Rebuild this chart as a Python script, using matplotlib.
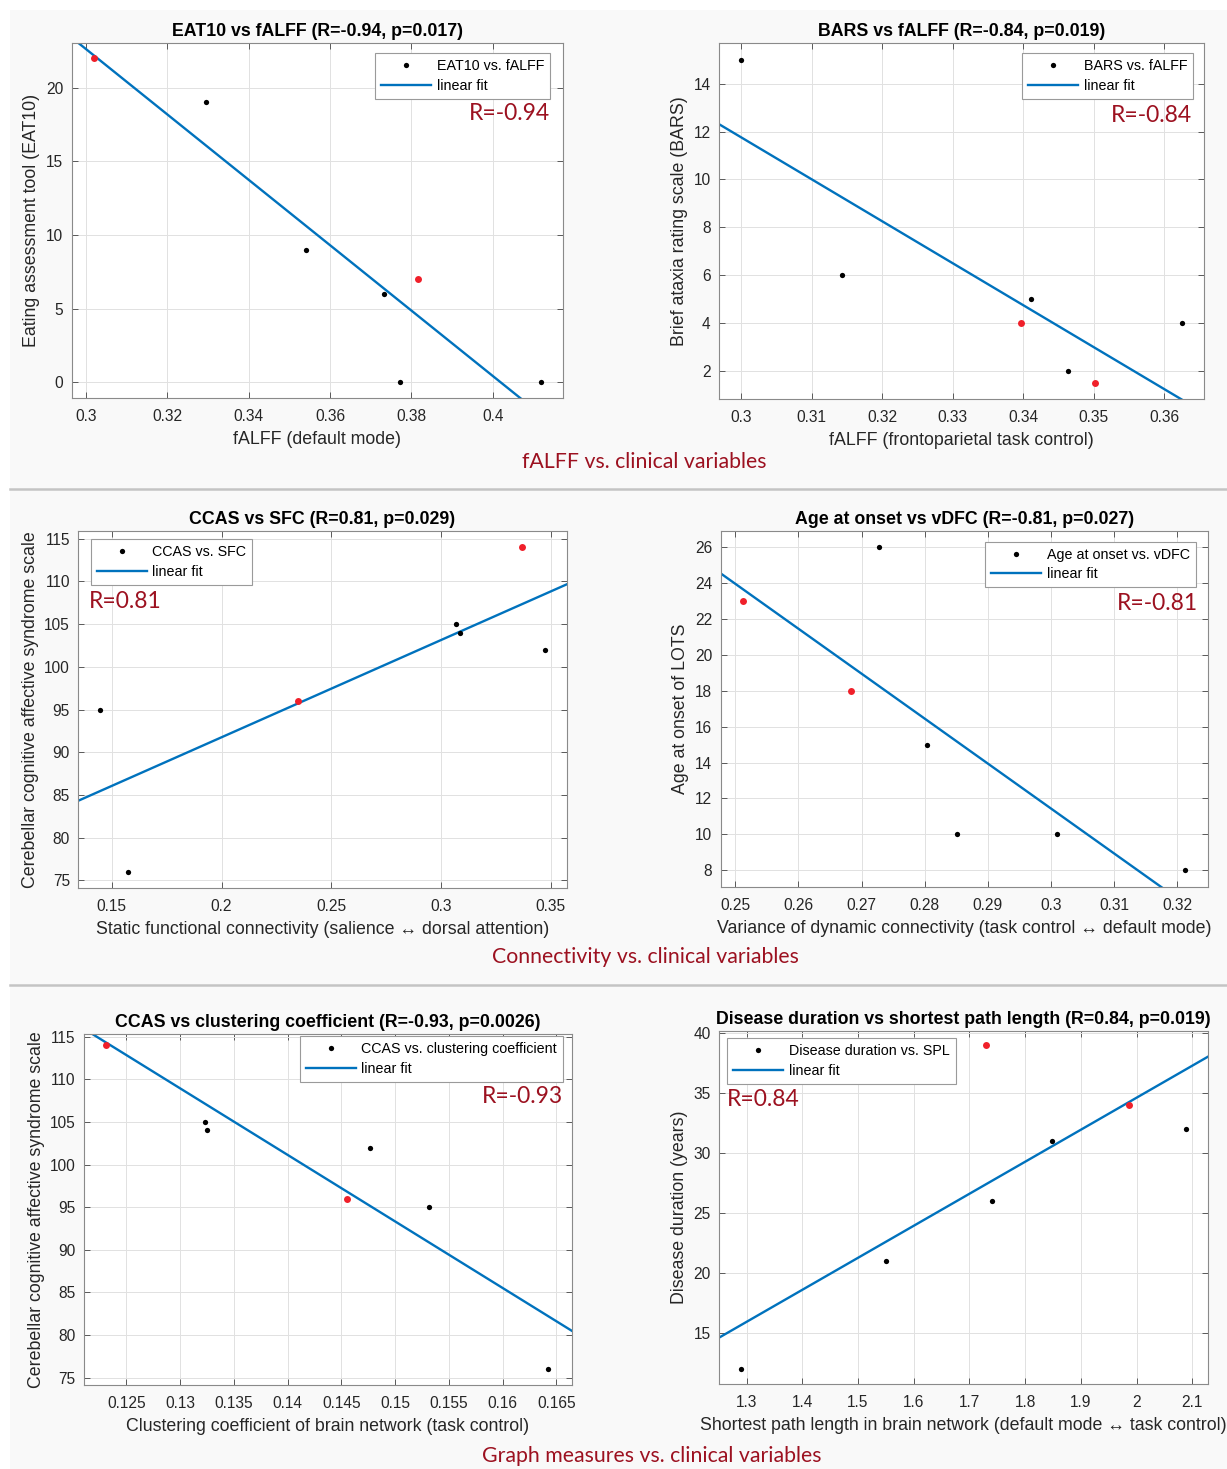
import numpy as np
import matplotlib
matplotlib.use('Agg')
import matplotlib.pyplot as plt
from matplotlib.lines import Line2D
from matplotlib.patches import Rectangle
from matplotlib.transforms import Bbox

W, H = 1227, 1469
plt.rcParams['font.family'] = ['Liberation Sans', 'DejaVu Sans']

# ---- data ----
# fALFF (default mode) vs EAT10
falff_dm = [0.302, 0.3296, 0.354, 0.3733, 0.3771, 0.3817, 0.4117]
eat10 = [22, 19, 9, 6, 0, 7, 0]
eat10_red = [0, 5]
eat10_fit = [-222.1, 89.26]

# fALFF (frontoparietal) vs BARS
falff_fp = [0.3, 0.3143, 0.3411, 0.3397, 0.3464, 0.3502, 0.3625]
bars = [15, 6, 5, 4, 2, 1.5, 4]
bars_red = [3, 5]
bars_fit = [-175.5, 64.41]

# static FC vs CCAS
sfc = [0.1444, 0.1574, 0.235, 0.3069, 0.3087, 0.3372, 0.3473]
ccas_sfc = [95, 76, 96, 105, 104, 114, 102]
sfc_red = [2, 5]
sfc_fit = [113.8, 68.99]

# variance of dynamic FC vs age at onset
vdfc = [0.2513, 0.2684, 0.2728, 0.2804, 0.2851, 0.3009, 0.3213]
onset_age = [23, 18, 26, 15, 10, 10, 8]
vdfc_red = [0, 1]
vdfc_fit = [-250.3, 86.53]

# clustering coefficient vs CCAS
clust = [0.1231, 0.13235, 0.1325, 0.14555, 0.14767, 0.15315, 0.16426]
ccas_clust = [114, 105, 104, 96, 102, 95, 76]
clust_red = [0, 3]
clust_fit = [-780.5, 210.4]

# shortest path length vs disease duration
spl = [1.2894, 1.5495, 1.7297, 1.7403, 1.8477, 1.9862, 2.0887]
duration = [12, 21, 39, 26, 31, 34, 32]
spl_red = [2, 5]
spl_fit = [26.71, -18.79]

panels = [
    dict(x=falff_dm, y=eat10, red=eat10_red, fit=eat10_fit,
         box=(71.5, 42.7, 562.5, 398), xlim=(0.2965, 0.4171), ylim=(-1.07, 23.05),
         xticks=[0.3, 0.32, 0.34, 0.36, 0.38, 0.4], yticks=[0, 5, 10, 15, 20],
         title='EAT10 vs fALFF (R=-0.94, p=0.017)',
         xlabel='fALFF (default mode)', ylabel='Eating assessment tool (EAT10)',
         leg='EAT10 vs. fALFF', loc='upper right', legpos=(0.9745, 0.970),
         rtxt='R=-0.94', rpos=(0.9745, 0.800), rha='right', clip=None),
    dict(x=falff_fp, y=bars, red=bars_red, fit=bars_fit,
         box=(719, 43.3, 1203.7, 399), xlim=(0.29687, 0.36559), ylim=(0.817, 15.69),
         xticks=[0.3, 0.31, 0.32, 0.33, 0.34, 0.35, 0.36], yticks=[2, 4, 6, 8, 10, 12, 14],
         title='BARS vs fALFF (R=-0.84, p=0.019)',
         xlabel='fALFF (frontoparietal task control)', ylabel='Brief ataxia rating scale (BARS)',
         leg='BARS vs. fALFF', loc='upper right', legpos=(0.978, 0.973),
         rtxt='R=-0.84', rpos=(0.976, 0.798), rha='right', clip=None),
    dict(x=sfc, y=ccas_sfc, red=sfc_red, fit=sfc_fit,
         box=(78.3, 530.7, 566.8, 888), xlim=(0.1347, 0.3574), ylim=(74.1, 115.94),
         xticks=[0.15, 0.2, 0.25, 0.3, 0.35], yticks=[75, 80, 85, 90, 95, 100, 105, 110, 115],
         title='CCAS vs SFC (R=0.81, p=0.029)',
         xlabel='Static functional connectivity (salience \u2194 dorsal attention)',
         ylabel='Cerebellar cognitive affective syndrome scale',
         leg='CCAS vs. SFC', loc='upper left', legpos=(0.025, 0.976),
         rtxt='R=0.81', rpos=(0.022, 0.803), rha='left', clip=549),
    dict(x=vdfc, y=onset_age, red=vdfc_red, fit=vdfc_fit,
         box=(720.6, 531, 1207.6, 886.7), xlim=(0.24769, 0.3248), ylim=(7.087, 26.89),
         xticks=[0.25, 0.26, 0.27, 0.28, 0.29, 0.3, 0.31, 0.32],
         yticks=[8, 10, 12, 14, 16, 18, 20, 22, 24, 26],
         title='Age at onset vs vDFC (R=-0.81, p=0.027)',
         xlabel='Variance of dynamic connectivity (task control \u2194 default mode)',
         ylabel='Age at onset of LOTS',
         leg='Age at onset vs. vDFC', loc='upper right', legpos=(0.9762, 0.970),
         rtxt='R=-0.81', rpos=(0.980, 0.797), rha='right', clip=1211),
    dict(x=clust, y=ccas_clust, red=clust_red, fit=clust_fit,
         box=(84.2, 1034.3, 571.5, 1385.3), xlim=(0.12107, 0.1664), ylim=(74.11, 115.28),
         xticks=[0.125, 0.13, 0.135, 0.14, 0.145, 0.15, 0.155, 0.16, 0.165],
         yticks=[75, 80, 85, 90, 95, 100, 105, 110, 115],
         title='CCAS vs clustering coefficient (R=-0.93, p=0.0026)',
         xlabel='Clustering coefficient of brain network (task control)',
         ylabel='Cerebellar cognitive affective syndrome scale',
         leg='CCAS vs. clustering coefficient', loc='upper right', legpos=(0.9826, 0.995),
         rtxt='R=-0.93', rpos=(0.9826, 0.822), rha='right', clip=None),
    dict(x=spl, y=duration, red=spl_red, fit=spl_fit,
         box=(719.1, 1030.7, 1208, 1383.7), xlim=(1.2506, 2.1282), ylim=(10.77, 40.22),
         xticks=[1.3, 1.4, 1.5, 1.6, 1.7, 1.8, 1.9, 2.0, 2.1], yticks=[15, 20, 25, 30, 35, 40],
         title='Disease duration vs shortest path length (R=0.84, p=0.019)',
         xlabel='Shortest path length in brain network (default mode \u2194 task control)',
         ylabel='Disease duration (years)',
         leg='Disease duration vs. SPL', loc='upper left', legpos=(0.0162, 0.979),
         rtxt='R=0.84', rpos=(0.016, 0.806), rha='left', clip=None),
]

sections = [
    ('fALFF vs. clinical variables', 644, 462),
    ('Connectivity vs. clinical variables', 645, 957),
    ('Graph measures vs. clinical variables', 652, 1456),
]
separators = [489, 985]

DARKRED = '#9c1120'
FITBLUE = '#0072BD'
TEXTCOL = '#262626'


def px_axes(fig, l, t, r, b):
    return fig.add_axes([l / W, 1 - b / H, (r - l) / W, (b - t) / H])


def draw_panel(fig, p):
    ax = px_axes(fig, *p['box'])
    ax.set_xlim(p['xlim'])
    ax.set_ylim(p['ylim'])
    ax.grid(True, color='#e1e1e1', lw=0.7)
    ax.set_axisbelow(True)

    x = np.array(p['x'])
    y = np.array(p['y'])
    xs = np.array(p['xlim'])
    h_line, = ax.plot(xs, p['fit'][0] * xs + p['fit'][1], color=FITBLUE,
                      lw=1.7, zorder=2)
    h_dot, = ax.plot(x, y, 'o', color='black', ms=3.8, mew=0, zorder=3)
    ax.plot(x[p['red']], y[p['red']], 'o', color='#f0202a', ms=5, mew=0, zorder=4)

    ax.set_xticks(p['xticks'], labels=[f'{v:g}' for v in p['xticks']])
    ax.set_yticks(p['yticks'], labels=[f'{v:g}' for v in p['yticks']])
    ax.tick_params(direction='in', top=True, right=True, length=4, width=0.6,
                   labelsize=11.2, colors='#444444', labelcolor=TEXTCOL)
    ax.tick_params(axis='x', pad=8)
    ax.tick_params(axis='y', pad=6)
    for s in ax.spines.values():
        s.set_color('#8a8a8a')
        s.set_linewidth(0.8)

    ax.set_title(p['title'], fontsize=12.8, fontweight='bold', color='black', pad=5)
    ax.set_xlabel(p['xlabel'], fontsize=12.8, color=TEXTCOL, labelpad=5)
    ax.set_ylabel(p['ylabel'], fontsize=12.8, color=TEXTCOL, labelpad=4)
    if p['clip'] is not None:
        lab = ax.xaxis.label
        lab.set_clip_box(Bbox.from_extents(0, 0, p['clip'], H))
        lab.set_clip_on(True)

    leg = ax.legend([h_dot, h_line], [p['leg'], 'linear fit'], loc=p['loc'],
                    bbox_to_anchor=p['legpos'], borderaxespad=0,
                    fontsize=10.3, frameon=True, fancybox=False, framealpha=1,
                    edgecolor='#9a9a9a', handlelength=3.5, handletextpad=0.4,
                    borderpad=0.42, labelspacing=0.4, numpoints=1)
    leg.get_frame().set_linewidth(0.8)

    ax.text(p['rpos'][0], p['rpos'][1], p['rtxt'], transform=ax.transAxes,
            ha=p['rha'], va='center', fontsize=16.5, family='Lato',
            color=DARKRED, zorder=5)
    return ax


fig = plt.figure(figsize=(W / 100, H / 100), dpi=100, facecolor='white')
fig.add_artist(Rectangle((10 / W, 0), 1 - 10 / W, 1 - 10 / H,
                         transform=fig.transFigure, facecolor='#f9f9f9',
                         edgecolor='none', zorder=-10))
for yy in separators:
    fig.add_artist(Line2D([10 / W, 1], [1 - yy / H, 1 - yy / H],
                          transform=fig.transFigure, color='#c4c4c4', lw=1.8))

for p in panels:
    draw_panel(fig, p)

for txt, cx, cy in sections:
    fig.text(cx / W, 1 - cy / H, txt, ha='center', va='center', fontsize=15.3,
             family='Lato', color=DARKRED)

fig.savefig('out.png', dpi=100, facecolor=fig.get_facecolor())
